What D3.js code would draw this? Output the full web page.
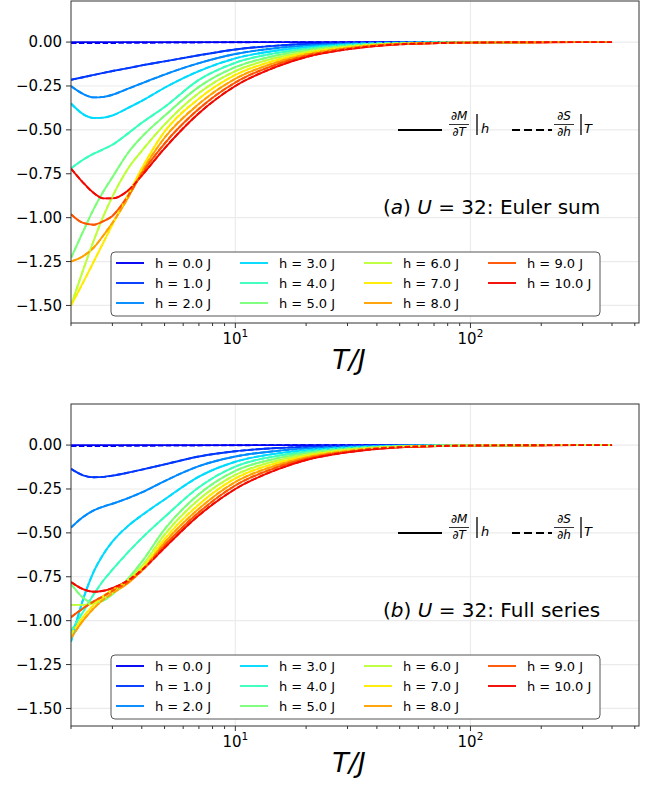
<!DOCTYPE html>
<html>
<head>
<meta charset="utf-8">
<script src="https://cdn.jsdelivr.net/npm/d3@7"></script>
<style>
  body { margin: 0; background: #fff; }
  text { font-family: "DejaVu Sans", sans-serif; fill: #000; }
</style>
</head>
<body>
<svg width="662" height="787"></svg>
<script>
var temps = [2, 2.25, 2.5, 2.75, 3, 3.5, 4, 5, 7, 10, 15, 20, 30, 50, 100, 200, 400];
var fields = [0, 1, 2, 3, 4, 5, 6, 7, 8, 9, 10];

// (a) U = 32, Euler sum: dM/dT at fixed h, one row per h
var eulerSum = [
  [0, 0, 0, 0, 0, 0, 0, 0, 0, 0, 0, 0, 0, 0, 0, 0, 0],
  [-0.215, -0.2, -0.187, -0.175, -0.165, -0.148, -0.133, -0.11, -0.075, -0.042, -0.02, -0.011, -0.005, -0.0015, -0.0004, -0.0001, 0],
  [-0.25, -0.295, -0.315, -0.312, -0.3, -0.265, -0.235, -0.185, -0.12, -0.068, -0.034, -0.02, -0.009, -0.003, -0.0007, -0.0002, 0],
  [-0.35, -0.41, -0.432, -0.43, -0.418, -0.375, -0.335, -0.26, -0.165, -0.093, -0.048, -0.029, -0.013, -0.004, -0.001, -0.0003, 0],
  [-0.72, -0.67, -0.635, -0.61, -0.585, -0.52, -0.46, -0.37, -0.215, -0.118, -0.062, -0.038, -0.017, -0.005, -0.0013, -0.0003, 0],
  [-1.23, -1.08, -0.95, -0.85, -0.77, -0.63, -0.54, -0.42, -0.255, -0.143, -0.076, -0.046, -0.021, -0.0065, -0.0016, -0.0004, 0],
  [-1.5, -1.3, -1.13, -0.99, -0.88, -0.72, -0.62, -0.47, -0.29, -0.165, -0.089, -0.054, -0.025, -0.0078, -0.0019, -0.0004, 0],
  [-1.5, -1.37, -1.25, -1.14, -1.04, -0.87, -0.72, -0.51, -0.322, -0.187, -0.102, -0.062, -0.029, -0.009, -0.0022, -0.0005, 0],
  [-1.25, -1.22, -1.17, -1.1, -1.03, -0.885, -0.74, -0.545, -0.352, -0.209, -0.115, -0.07, -0.033, -0.0102, -0.0025, -0.0005, 0],
  [-0.98, -1.03, -1.04, -1.02, -0.99, -0.875, -0.75, -0.578, -0.38, -0.23, -0.127, -0.078, -0.037, -0.0115, -0.0028, -0.0006, 0],
  [-0.72, -0.8, -0.86, -0.89, -0.89, -0.845, -0.76, -0.605, -0.405, -0.25, -0.14, -0.085, -0.041, -0.0128, -0.003, -0.0006, 0]
];

// (b) U = 32, full series
var fullSeries = [
  [0, 0, 0, 0, 0, 0, 0, 0, 0, 0, 0, 0, 0, 0, 0, 0, 0],
  [-0.135, -0.172, -0.183, -0.181, -0.174, -0.157, -0.14, -0.11, -0.065, -0.035, -0.017, -0.01, -0.0045, -0.0013, -0.0003, -0.0001, 0],
  [-0.47, -0.41, -0.372, -0.35, -0.334, -0.302, -0.27, -0.205, -0.12, -0.065, -0.033, -0.019, -0.0085, -0.0027, -0.0007, -0.0002, 0],
  [-1.12, -0.88, -0.72, -0.62, -0.55, -0.46, -0.4, -0.31, -0.18, -0.095, -0.048, -0.029, -0.013, -0.004, -0.001, -0.0003, 0],
  [-1.06, -0.95, -0.85, -0.77, -0.71, -0.61, -0.53, -0.41, -0.24, -0.122, -0.062, -0.038, -0.017, -0.005, -0.0013, -0.0003, 0],
  [-0.79, -0.87, -0.9, -0.885, -0.85, -0.76, -0.665, -0.48, -0.28, -0.147, -0.076, -0.046, -0.021, -0.0065, -0.0016, -0.0004, 0],
  [-0.91, -0.91, -0.9, -0.875, -0.845, -0.77, -0.69, -0.51, -0.31, -0.17, -0.089, -0.054, -0.025, -0.0078, -0.0019, -0.0004, 0],
  [-1.08, -0.98, -0.91, -0.86, -0.825, -0.77, -0.705, -0.535, -0.338, -0.19, -0.102, -0.062, -0.029, -0.009, -0.0022, -0.0005, 0],
  [-1.1, -1.0, -0.93, -0.88, -0.845, -0.785, -0.715, -0.555, -0.362, -0.21, -0.115, -0.07, -0.033, -0.0102, -0.0025, -0.0005, 0],
  [-0.98, -0.93, -0.89, -0.86, -0.83, -0.78, -0.715, -0.572, -0.383, -0.23, -0.127, -0.078, -0.037, -0.0115, -0.0028, -0.0006, 0],
  [-0.78, -0.82, -0.835, -0.83, -0.815, -0.77, -0.712, -0.585, -0.4, -0.25, -0.14, -0.085, -0.041, -0.0128, -0.003, -0.0006, 0]
];

// dS/dh for h = 0 sits just under the solid line
var zeroFieldDashed = [-0.006, -0.006, -0.006, -0.005, -0.005, -0.004, -0.004, -0.003, -0.002, -0.001, 0, 0, 0, 0, 0, 0, 0];

var panelTags = ['a', 'b'];
var panelNames = ['Euler sum', 'Full series'];
var yTicks = [0, -0.25, -0.5, -0.75, -1.0, -1.25, -1.5];
var xMajor = [10, 100];

var svg = d3.select("svg");
var panelTop = [1, 404],
    panelH = 322,
    left = 71, right = 639;

var x = d3.scaleLog().domain([2, 521]).range([left, right]);
var y = d3.scaleLinear().domain([-1.6, 0.234]).range([panelH, 0]);

// matplotlib "jet"
var jetR = d3.scaleLinear().domain([0, 0.35, 0.66, 0.89, 1]).range([0, 0, 1, 1, 0.5]).clamp(true);
var jetG = d3.scaleLinear().domain([0, 0.125, 0.375, 0.64, 0.91, 1]).range([0, 0, 1, 1, 0, 0]).clamp(true);
var jetB = d3.scaleLinear().domain([0, 0.11, 0.34, 0.65, 1]).range([0.5, 1, 1, 0, 0]).clamp(true);
function jet(v) {
  return d3.rgb(255 * jetR(v), 255 * jetG(v), 255 * jetB(v)).formatHex();
}
var colour = i => jet(0.1 + 0.08 * i);

var line = d3.line()
  .x((d, i) => x(temps[i]))
  .y(d => y(d))
  .curve(d3.curveMonotoneX);

function drawPanel(p, data) {
  var g = svg.append("g").attr("transform", "translate(0," + panelTop[p] + ")");

  g.append("clipPath").attr("id", "clip" + p)
    .append("rect").attr("x", left).attr("y", 0).attr("width", right - left).attr("height", panelH);

  // grid
  g.append("g").selectAll("line").data(yTicks).enter().append("line")
    .attr("x1", left).attr("x2", right)
    .attr("y1", d => y(d)).attr("y2", d => y(d))
    .attr("stroke", "#ebebeb").attr("stroke-width", 1.2);
  g.append("g").selectAll("line").data(xMajor).enter().append("line")
    .attr("x1", d => x(d)).attr("x2", d => x(d))
    .attr("y1", 0).attr("y2", panelH)
    .attr("stroke", "#ebebeb").attr("stroke-width", 1.2);

  var curves = g.append("g").attr("clip-path", "url(#clip" + p + ")");
  curves.selectAll("path.solid").data(data).enter().append("path")
    .attr("class", "solid")
    .attr("d", line)
    .attr("fill", "none")
    .attr("stroke", (d, i) => colour(i))
    .attr("stroke-width", 1.9);
  curves.selectAll("path.dash").data([zeroFieldDashed].concat(data.slice(1))).enter().append("path")
    .attr("class", "dash")
    .attr("d", line)
    .attr("fill", "none")
    .attr("stroke", (d, i) => colour(i))
    .attr("stroke-width", 1.9)
    .attr("stroke-dasharray", "5.5,2.4");

  // frame
  g.append("rect").attr("x", left).attr("y", 0).attr("width", right - left).attr("height", panelH)
    .attr("fill", "none").attr("stroke", "#333").attr("stroke-width", 1);

  // y ticks
  var yt = g.append("g").selectAll("g").data(yTicks).enter().append("g")
    .attr("transform", d => "translate(0," + y(d) + ")");
  yt.append("line").attr("x1", left - 5).attr("x2", left).attr("stroke", "#333");
  yt.append("text").attr("x", left - 9).attr("dy", "0.35em")
    .attr("text-anchor", "end").style("font-size", "15px")
    .text(d3.format(".2f"));

  // x ticks
  var minor = x.ticks().filter(t => xMajor.indexOf(t) < 0);
  g.append("g").selectAll("line").data(minor).enter().append("line")
    .attr("x1", d => x(d)).attr("x2", d => x(d))
    .attr("y1", panelH).attr("y2", panelH + 3)
    .attr("stroke", "#333");
  var xt = g.append("g").selectAll("g").data(xMajor).enter().append("g")
    .attr("transform", d => "translate(" + x(d) + "," + panelH + ")");
  xt.append("line").attr("y2", 5).attr("stroke", "#333");
  var lab = xt.append("text").attr("y", 21).attr("text-anchor", "middle").style("font-size", "15px");
  lab.append("tspan").text("10");
  lab.append("tspan").attr("dy", -7).style("font-size", "10.5px").text(d => Math.round(Math.log10(d)));

  g.append("text")
    .attr("x", 349).attr("y", panelH + 46)
    .attr("text-anchor", "middle")
    .style("font-size", "27px").style("font-style", "italic")
    .text("T/J");

  // legend of h values
  var lg = g.append("g").attr("transform", "translate(111,251)");
  lg.append("rect").attr("width", 489).attr("height", 64).attr("rx", 4)
    .attr("fill", "#fff").attr("stroke", "#555").attr("stroke-width", 1);
  var item = lg.selectAll("g.item").data(fields).enter().append("g")
    .attr("transform", (d, i) => "translate(" + (5 + 124 * Math.floor(i / 3)) + "," + (11 + 20 * (i % 3)) + ")");
  item.append("line").attr("x1", 0).attr("x2", 28)
    .attr("stroke", (d, i) => colour(i)).attr("stroke-width", 1.9);
  item.append("text").attr("x", 39).attr("dy", "0.35em").style("font-size", "13px")
    .text(d => "h = " + d.toFixed(1) + " J");

  // line-style key
  var key = g.append("g");
  key.append("line").attr("x1", 398).attr("x2", 442).attr("y1", 129).attr("y2", 129)
    .attr("stroke", "#000").attr("stroke-width", 2.2);
  fraction(key, 459, "M", "T");
  key.append("line").attr("x1", 477).attr("x2", 477).attr("y1", 113).attr("y2", 134).attr("stroke", "#000").attr("stroke-width", 1.3);
  key.append("text").attr("x", 481).attr("y", 132).style("font-size", "13px").style("font-style", "italic").text("h");

  key.append("line").attr("x1", 512).attr("x2", 552).attr("y1", 129).attr("y2", 129)
    .attr("stroke", "#000").attr("stroke-width", 2.2).attr("stroke-dasharray", "8,4");
  fraction(key, 564, "S", "h");
  key.append("line").attr("x1", 581).attr("x2", 581).attr("y1", 113).attr("y2", 134).attr("stroke", "#000").attr("stroke-width", 1.3);
  key.append("text").attr("x", 584).attr("y", 132).style("font-size", "13px").style("font-style", "italic").text("T");

  // panel title
  var t = g.append("text").attr("x", 383).attr("y", 213).style("font-size", "20px");
  t.append("tspan").text("(");
  t.append("tspan").style("font-style", "italic").text(panelTags[p]);
  t.append("tspan").text(") ");
  t.append("tspan").style("font-style", "italic").text("U");
  t.append("tspan").text(" = 32: " + panelNames[p]);
}

function fraction(g, cx, num, den) {
  g.append("text").attr("x", cx).attr("y", 119).attr("text-anchor", "middle").style("font-size", "12px")
    .html("∂<tspan font-style='italic'>" + num + "</tspan>");
  g.append("line").attr("x1", cx - 10).attr("x2", cx + 10).attr("y1", 123.5).attr("y2", 123.5)
    .attr("stroke", "#000").attr("stroke-width", 0.8);
  g.append("text").attr("x", cx).attr("y", 135).attr("text-anchor", "middle").style("font-size", "12px")
    .html("∂<tspan font-style='italic'>" + den + "</tspan>");
}

drawPanel(0, eulerSum);
drawPanel(1, fullSeries);
</script>
</body>
</html>
